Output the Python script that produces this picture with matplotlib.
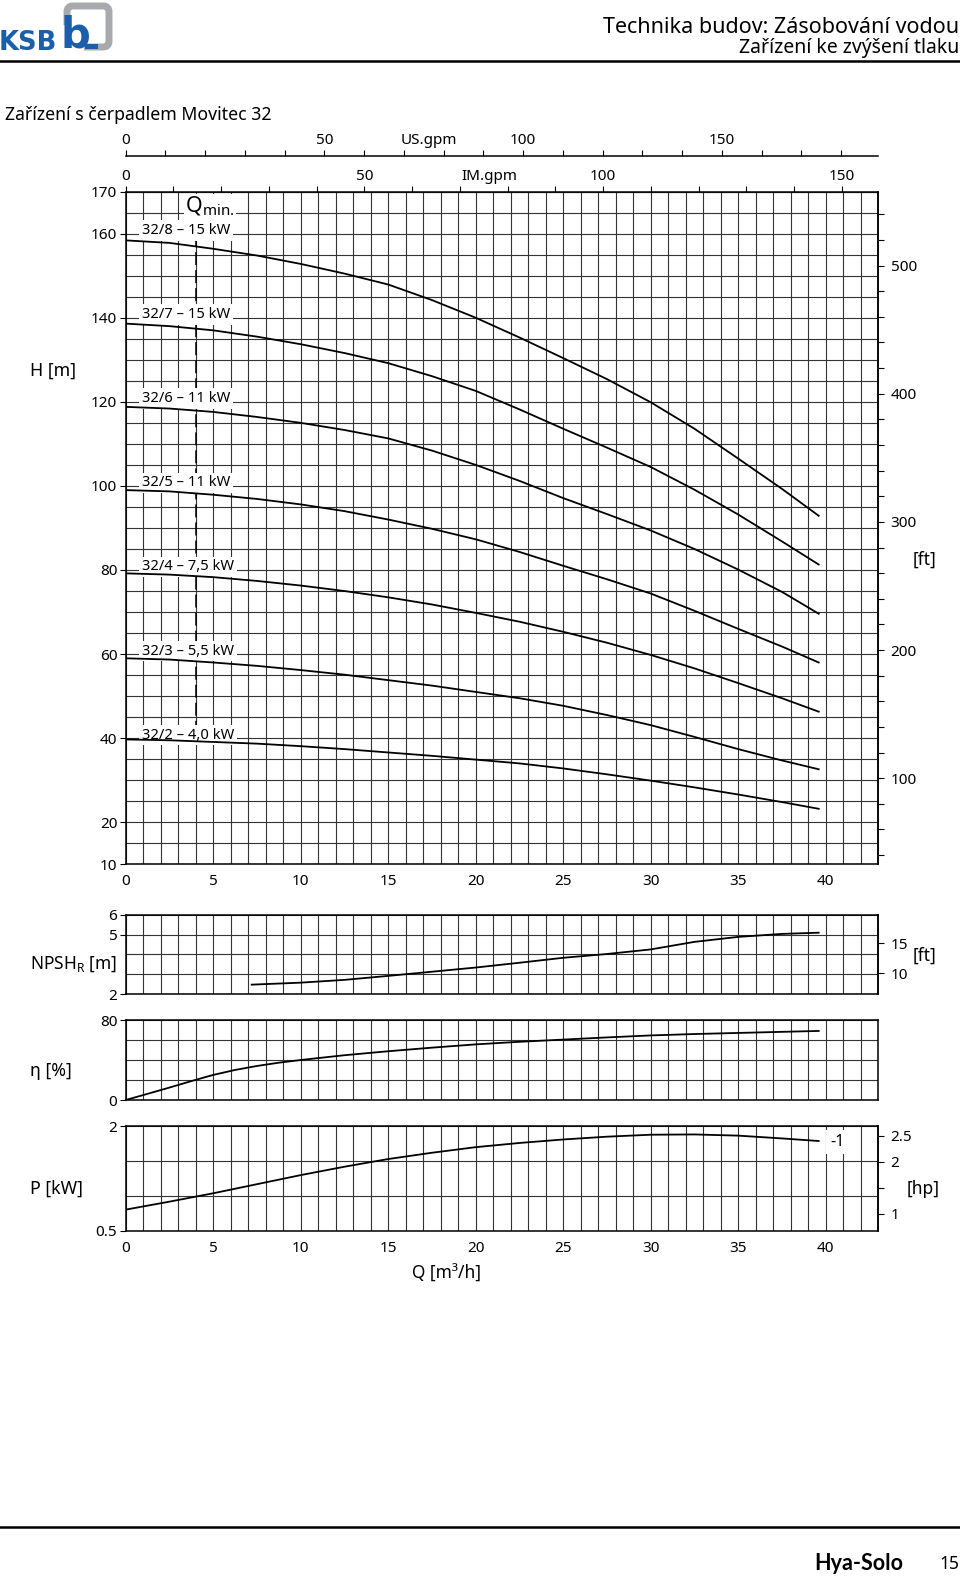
import matplotlib.pyplot as plt
import numpy as np
from matplotlib.lines import Line2D
from matplotlib.patches import FancyBboxPatch, Rectangle

plt.rcParams['font.family'] = ['Noto Sans', 'DejaVu Sans']

# flow rate Q [m3/h] where the curves were read
q = [0, 2.5, 5, 7.5, 10, 12.5, 15, 17.5, 20, 22.5, 25, 27.5, 30, 32.5, 35, 37.5, 39.6]

# head H [m] per pump variant
h_32_8 = [158.4, 157.8, 156.4, 154.8, 152.8, 150.5, 147.9, 144.2, 140.0, 135.3, 130.4, 125.4, 119.9, 113.6, 106.5, 99.3, 92.9]
h_32_7 = [138.6, 138.0, 137.0, 135.5, 133.7, 131.6, 129.2, 126.1, 122.6, 118.2, 113.6, 109.1, 104.5, 99.1, 93.2, 86.8, 81.3]
h_32_6 = [118.8, 118.4, 117.6, 116.4, 115.0, 113.3, 111.3, 108.4, 105.0, 101.2, 97.1, 93.3, 89.4, 85.0, 80.1, 74.8, 69.6]
h_32_5 = [99.0, 98.7, 97.9, 96.9, 95.6, 94.0, 92.0, 89.8, 87.3, 84.3, 81.0, 77.8, 74.4, 70.3, 66.0, 61.8, 58.0]
h_32_4 = [79.2, 78.9, 78.3, 77.4, 76.3, 75.0, 73.5, 71.8, 69.8, 67.7, 65.3, 62.7, 59.8, 56.6, 53.1, 49.5, 46.3]
h_32_3 = [59.0, 58.7, 58.0, 57.2, 56.2, 55.1, 53.8, 52.5, 51.0, 49.5, 47.7, 45.5, 43.1, 40.3, 37.4, 34.7, 32.6]
h_32_2 = [39.7, 39.5, 39.1, 38.7, 38.1, 37.4, 36.6, 35.8, 34.9, 34.0, 32.8, 31.4, 29.9, 28.3, 26.6, 24.8, 23.2]

heads = [h_32_8, h_32_7, h_32_6, h_32_5, h_32_4, h_32_3, h_32_2]
pump_labels = ['32/8 – 15 kW', '32/7 – 15 kW', '32/6 – 11 kW', '32/5 – 11 kW',
               '32/4 – 7,5 kW', '32/3 – 5,5 kW', '32/2 – 4,0 kW']
label_levels = [160, 140, 120, 100, 80, 60, 40]

q_npsh = [7.2, 10, 12.5, 15, 17.5, 20, 22.5, 25, 27.5, 30, 32.5, 35, 37.5, 39.6]
npsh = [2.48, 2.58, 2.72, 2.92, 3.13, 3.34, 3.58, 3.83, 4.02, 4.25, 4.63, 4.88, 5.03, 5.09]

q_eta = [0, 1.25, 2.5, 3.75, 5, 6.25, 7.5, 8.75, 10, 12.5, 15, 17.5, 20, 22.5, 25, 27.5, 30, 32.5, 35, 37.5, 39.6]
eta = [0, 6.2, 12.5, 19.0, 25.2, 30.2, 34.2, 37.5, 40.2, 45.0, 49.0, 52.6, 55.9, 58.5, 60.7, 62.9, 64.9, 66.3, 67.4, 68.5, 69.4]

power = [0.806, 0.92, 1.04, 1.17, 1.30, 1.42, 1.53, 1.62, 1.70, 1.76, 1.81, 1.85, 1.878, 1.882, 1.865, 1.825, 1.788]

q_min = 4
q_min_range = [164.3, 39.3]

M2FT = 3.28084
Q2US = 4.40287
Q2IM = 3.66615
KW2HP = 1.34102

W, H = 960, 1579
fig = plt.figure(figsize=(9.6, 15.79), dpi=100)

# page overlay in pixel coordinates (header/footer)
pg = fig.add_axes([0, 0, 1, 1], zorder=-5)
pg.set_xlim(0, W)
pg.set_ylim(H, 0)
pg.axis('off')


def box(l, t, r, b):
    return fig.add_axes([l / W, 1 - b / H, (r - l) / W, (b - t) / H])


def ftext(x, y, s, **kw):
    pg.text(x, y, s, **kw)


GRID = '#333333'


def panel(ax, ylo, yhi, ystep, yticks, ylabels=None, xlabels=True):
    ax.set_xlim(0, 43)
    ax.set_ylim(ylo, yhi)
    ax.set_xticks(np.arange(0, 41, 5))
    ax.set_xticks(np.arange(0, 44, 1), minor=True)
    ax.set_yticks(yticks)
    if ylabels is not None:
        ax.set_yticklabels(ylabels)
    ax.set_yticks(np.arange(ylo, yhi + ystep / 2, ystep), minor=True)
    ax.grid(which='both', color=GRID, lw=0.8)
    ax.set_axisbelow(True)
    for s in ax.spines.values():
        s.set_linewidth(1.1)
    ax.tick_params(which='minor', length=0)
    ax.tick_params(axis='y', which='major', direction='out', length=4, width=0.8, pad=2, labelsize=11)
    ax.tick_params(axis='x', which='major', length=0, pad=7, labelsize=11, labelbottom=xlabels)


def right_axis(ax, f, finv, ticks, labels):
    sec = ax.secondary_yaxis('right', functions=(f, finv))
    sec.set_ticks(ticks, labels=labels)
    sec.tick_params(direction='out', length=4, width=0.8, pad=5, labelsize=11)
    sec.spines['right'].set_linewidth(1.1)
    return sec


# ---- head curves ----
ax = box(125.7, 191.6, 878.2, 864.3)
panel(ax, 10, 170, 5, [10, 20, 40, 60, 80, 100, 120, 140, 160, 170])
for hv in heads:
    ax.plot(q, hv, color='black', lw=1.3, zorder=6)
for lab, lv in zip(pump_labels, label_levels):
    ax.text(0.92, lv - 0.1, lab, fontsize=10.6, va='baseline', ha='left', zorder=5,
            bbox=dict(fc='white', ec='none', pad=2.0))
ax.plot([q_min, q_min], q_min_range, color='black', lw=1.1, dashes=[8.5, 3.3], zorder=4)
ax.text(3.4, 165.0, r'Q$_{\mathregular{min.}}$', fontsize=15.5, va='baseline', ha='left', zorder=5,
        bbox=dict(fc='white', ec='none', pad=1.0))

ft_ticks = np.arange(40, 541, 20)
right_axis(ax, lambda m: m * M2FT, lambda f: f / M2FT, ft_ticks,
           [str(v) if v % 100 == 0 else '' for v in ft_ticks])

im = ax.secondary_xaxis('top', functions=(lambda x: x * Q2IM, lambda g: g / Q2IM))
im_ticks = np.arange(0, 151, 10)
im.set_ticks(im_ticks, labels=[str(v) if v % 50 == 0 else '' for v in im_ticks])
im.tick_params(direction='out', length=4, width=0.8, pad=1.5, labelsize=11)

us = ax.secondary_xaxis(1.0528, functions=(lambda x: x * Q2US, lambda g: g / Q2US))
us_ticks = np.arange(0, 181, 10)
us.set_ticks(us_ticks, labels=[str(v) if v % 50 == 0 else '' for v in us_ticks])
us.tick_params(direction='out', length=4, width=0.8, pad=1.5, labelsize=11)
us.spines['top'].set_linewidth(1.1)

ax.annotate('IM.gpm', (20.8, 1.0), xycoords=('data', 'axes fraction'), xytext=(0, 5.5),
            textcoords='offset points', ha='center', va='bottom', fontsize=11)
ax.annotate('US.gpm', (17.3, 1.0528), xycoords=('data', 'axes fraction'), xytext=(0, 5.5),
            textcoords='offset points', ha='center', va='bottom', fontsize=11)

# ---- NPSH ----
ax_n = box(125.7, 914.6, 878.2, 994.2)
panel(ax_n, 2, 6, 1, [2, 5, 6], xlabels=False)
ax_n.plot(q_npsh, npsh, color='black', lw=1.3)
right_axis(ax_n, lambda m: m * M2FT, lambda f: f / M2FT, [10, 15], ['10', '15'])

# ---- efficiency ----
ax_e = box(125.7, 1020.4, 878.2, 1100.0)
panel(ax_e, 0, 80, 20, [0, 80], xlabels=False)
ax_e.plot(q_eta, eta, color='black', lw=1.3)

# ---- power ----
ax_p = box(125.7, 1126.2, 878.2, 1231.0)
panel(ax_p, 0.5, 2, 0.5, [0.5, 2], ['0.5', '2'])
ax_p.plot(q, power, color='black', lw=1.3)
right_axis(ax_p, lambda p: p * KW2HP, lambda h: h / KW2HP, [1, 1.5, 2, 2.5], ['1', '', '2', '2.5'])
ax_p.text(40.65, 1.774, '-1', fontsize=11.5, ha='center', va='center', zorder=5,
          bbox=dict(fc='white', ec='none', pad=2.5))

# ---- axis captions ----
ftext(30, 371, 'H [m]', fontsize=12.8, va='center')
ftext(30, 964, r'NPSH$_{\mathregular{R}}$ [m]', fontsize=12.5, va='center')
ftext(30, 1071, 'η [%]', fontsize=12.8, va='center')
ftext(30, 1189, 'P [kW]', fontsize=12.8, va='center')
ftext(925, 560, '[ft]', fontsize=12.5, va='center', ha='center')
ftext(925, 956, '[ft]', fontsize=12.5, va='center', ha='center')
ftext(923, 1189, '[hp]', fontsize=12.5, va='center', ha='center')
ftext(446, 1274, 'Q [m³/h]', fontsize=12.5, va='center', ha='center')

# ---- header ----
ftext(959, 27.5, 'Technika budov: Zásobování vodou', fontsize=15.5, ha='right', va='center')
ftext(959, 48, 'Zařízení ke zvýšení tlaku', fontsize=14, ha='right', va='center')
ftext(5, 114.5, 'Zařízení s čerpadlem Movitec 32', fontsize=12.7, ha='left', va='center')
pg.add_line(Line2D([0, W], [60.5, 60.5], color='black', lw=1.8))

# logo
pg.add_patch(FancyBboxPatch((67, 6), 42, 41, boxstyle='round,pad=0,rounding_size=6',
                            fc='none', ec='#a7a9ac', lw=5))
pg.add_patch(Rectangle((58, 25), 26, 28, fc='white', ec='none'))
ftext(-1, 50.5, 'KSB', fontsize=18.5, fontweight='bold', color='#1b5faa', ha='left', va='baseline',
      family='DejaVu Sans')
ftext(60, 47.5, 'b', fontsize=30, fontweight='bold', color='#1b5faa', ha='left', va='baseline',
      family='DejaVu Sans')
pg.add_patch(Rectangle((85, 43.5), 13, 5, fc='#1b5faa', ec='none'))

# ---- footer ----
pg.add_line(Line2D([0, W], [1527, 1527], color='black', lw=1.8))
ftext(859, 1564, 'Hya-Solo', fontsize=15.5, fontweight='bold', ha='center', va='center',
      family=['Lato', 'DejaVu Sans'])
ftext(949, 1564, '15', fontsize=12.5, ha='center', va='center')

fig.savefig('out.png', dpi=100)
